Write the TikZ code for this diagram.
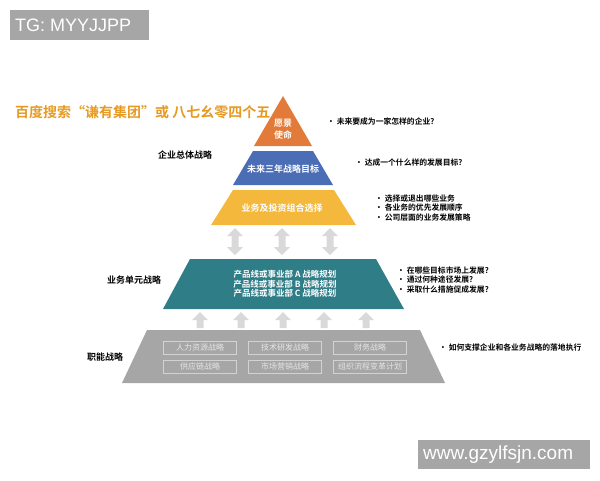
\documentclass[tikz,border=0pt]{standalone}
\usepackage{fontspec}
\setmainfont{Noto Sans CJK SC}[BoldFont={Noto Sans CJK SC Bold}]
\setsansfont{Liberation Sans}
\usetikzlibrary{positioning}
\definecolor{visionorange}{HTML}{E27B3A}
\definecolor{goalblue}{HTML}{4A6DB6}
\definecolor{portyellow}{HTML}{F4B93C}
\definecolor{unitteal}{HTML}{2E7D87}
\definecolor{funcgray}{HTML}{A6A6A6}
\definecolor{boxline}{HTML}{D2D2D2}
\definecolor{boxtext}{HTML}{E6E6E6}
\definecolor{arrowgray}{HTML}{D9D9D9}
\definecolor{titlegold}{HTML}{E69A22}
\definecolor{stampgray}{HTML}{A6A6A6}

\begin{document}
\begin{tikzpicture}[
    x=1pt, y=-1pt,
    every node/.style={
    inner sep=0pt,
    align=center},
    bandtext/.style={text=white, font=\bfseries\fontsize{9}{12}\selectfont},
    level/.style={text=black, font=\bfseries\fontsize{9}{11}\selectfont},
    note/.style={anchor=west, align=left, font=\bfseries\fontsize{7.8}{9.2}\selectfont},
    fnbox/.style={draw=boxline, line width=0.8pt, minimum width=73pt, minimum height=13pt,
        text=boxtext, font=\fontsize{8}{10}\selectfont},
    stamp/.style={anchor=west, text=white, font=\sffamily\fontsize{18}{20}\selectfont}]
    \useasboundingbox (0,0) rectangle (600,480);
    % watermarks
    \fill[stampgray] (10,10) rectangle (149,40);
    \node[stamp] (tg) at (15,25) {TG: MYYJJPP};
    \fill[stampgray] (418,440) rectangle (590,469);
    \node[stamp, font=\sffamily\fontsize{19}{21}\selectfont] (site) at (423,454.5) {www.gzylfsjn.com};
    % title
    \node[anchor=west, text=titlegold, font=\bfseries\fontsize{14}{16}\selectfont] (banner) at (15,112)
        {百度搜索“谦有集团”或 八七幺零四个五};
    % pyramid bands
    \fill[visionorange] (283,96) -- (312,146) -- (254,146) -- cycle;
    \fill[goalblue] (253,151) -- (313,151) -- (333,185) -- (233,185) -- cycle;
    \fill[portyellow] (233,190) -- (334,190) -- (356,225) -- (211,225) -- cycle;
    \fill[unitteal] (190,259) -- (376,259) -- (404,309) -- (163,309) -- cycle;
    \fill[funcgray] (147,330) -- (420,330) -- (445,383) -- (122,383) -- cycle;
    \node[bandtext] (vision) at (283,129) {愿景\\使命};
    \node[bandtext] (goal) at (283,169) {未来三年战略目标};
    \node[bandtext] (portfolio) at (282,208) {业务及投资组合选择};
    \node[bandtext, font=\bfseries\fontsize{8.5}{9.6}\selectfont] (units) at (285,284)
        {产品线或事业部 A 战略规划\\产品线或事业部 B 战略规划\\产品线或事业部 C 战略规划};
    % functional boxes
    \node[fnbox] (hr) at (200,347.5) {人力资源战略};
    \node[fnbox] (rd) at (285,347.5) {技术研发战略};
    \node[fnbox] (fin) at (370,347.5) {财务战略};
    \node[fnbox] (supply) at (200,366.5) {供应链战略};
    \node[fnbox] (market) at (285,366.5) {市场营销战略};
    \node[fnbox] (org) at (370,366.5) {组织流程变革计划};
    % arrows
    \foreach \x in {235,282,330}
        \fill[arrowgray] (\x,228) -- ++(8,8) -- ++(-4.5,0) -- ++(0,11) -- ++(4.5,0)
            -- ++(-8,8) -- ++(-8,-8) -- ++(4.5,0) -- ++(0,-11) -- ++(-4.5,0) -- cycle;
    \foreach \x in {200,241,283,324,366}
        \fill[arrowgray] (\x,312) -- ++(8,8) -- ++(-4.5,0) -- ++(0,8) -- ++(-7,0)
            -- ++(0,-8) -- ++(-4.5,0) -- cycle;
    % levels
    \node[level] (corp) at (185,155) {企业总体战略};
    \node[level] (bu) at (134,280) {业务单元战略};
    \node[level] (func) at (105,357) {职能战略};
    % questions
    \node[note] (q1) at (327,122) {•~未来要成为一家怎样的企业?};
    \node[note] (q2) at (355,163) {•~达成一个什么样的发展目标?};
    \node[note] (q3) at (375,208) {•~选择或退出哪些业务\\•~各业务的优先发展顺序\\•~公司层面的业务发展策略};
    \node[note] (q4) at (397,280) {•~在哪些目标市场上发展?\\•~通过何种途径发展?\\•~采取什么措施促成发展?};
    \node[note] (q5) at (439,348) {•~如何支撑企业和各业务战略的落地执行};
\end{tikzpicture}
\end{document}
